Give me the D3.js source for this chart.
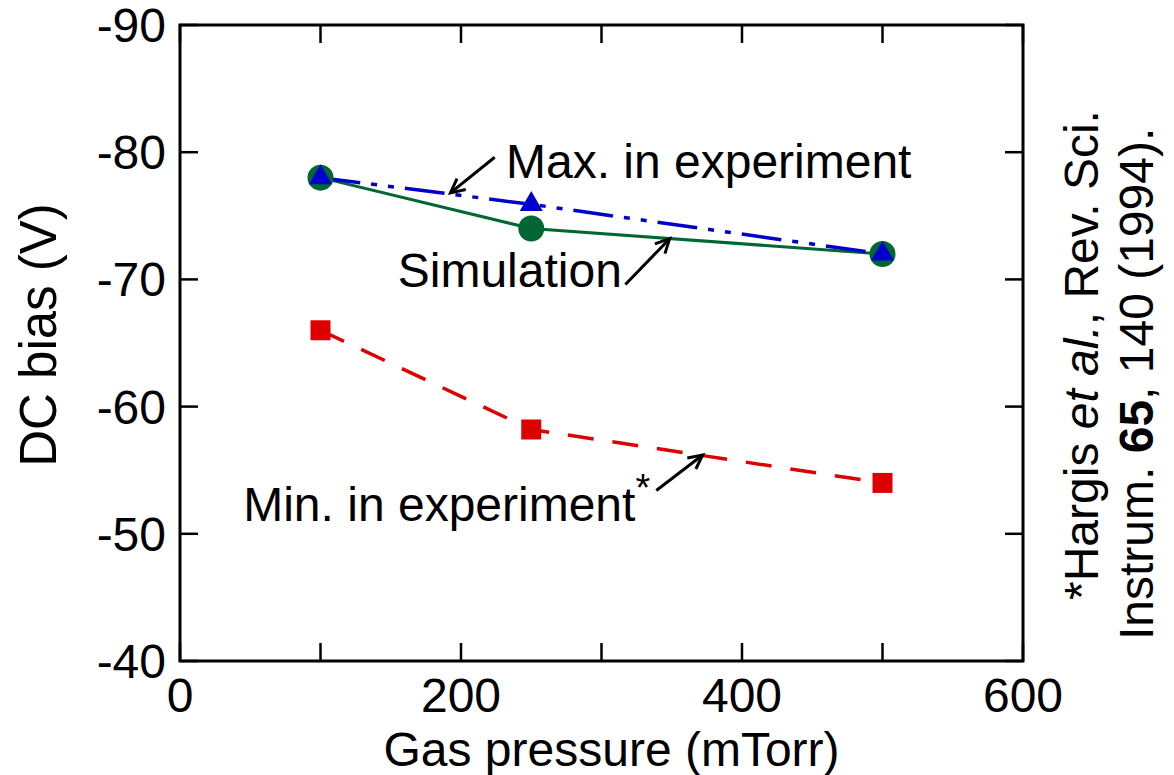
<!DOCTYPE html>
<html>
<head>
<meta charset="utf-8">
<script src="https://cdn.jsdelivr.net/npm/d3@7"></script>
<style>
  body { margin: 0; background: #fff; }
  svg text { font-family: "Liberation Sans", Arial, sans-serif; fill: #000; }
</style>
</head>
<body>
<div id="chart"></div>
<script>
// data
const pressure = [100, 250, 500];             // mTorr
const simulation = [-78, -74, -72];           // V
const maxExperiment = [-78, -75.9, -72];      // V
const minExperiment = [-66, -58.2, -54];      // V

const xTicks = [0, 100, 200, 300, 400, 500, 600];
const xTickLabels = [0, 200, 400, 600];
const yTicks = [-90, -80, -70, -60, -50, -40];

const margin = { top: 25, right: 151, bottom: 114, left: 180 },
    width = 1174 - margin.left - margin.right,
    height = 775 - margin.top - margin.bottom;

const svg = d3.select("#chart")
    .append("svg")
    .attr("width", width + margin.left + margin.right)
    .attr("height", height + margin.top + margin.bottom);

const defs = svg.append("defs");
defs.append("marker")
    .attr("id", "arrow")
    .attr("markerUnits", "userSpaceOnUse")
    .attr("markerWidth", 30).attr("markerHeight", 30)
    .attr("viewBox", "-15 -15 30 30")
    .attr("refX", 0).attr("refY", 0)
    .attr("orient", "auto")
    .append("path")
    .attr("d", "M-14,-7 L0,0 L-14,7")
    .attr("fill", "none")
    .attr("stroke", "#000")
    .attr("stroke-width", 3);

const g = svg.append("g")
    .attr("transform", `translate(${margin.left},${margin.top})`);

const x = d3.scaleLinear().domain([0, 600]).range([0, width]);
const y = d3.scaleLinear().domain([-90, -40]).range([0, height]);

const fs = 48;
const tickLen = 18;

// ticks (inward, mirrored)
const tickG = g.append("g").attr("stroke", "#000").attr("stroke-width", 2.5);
xTicks.forEach(v => {
    tickG.append("line").attr("x1", x(v)).attr("x2", x(v))
        .attr("y1", height).attr("y2", height - tickLen);
    tickG.append("line").attr("x1", x(v)).attr("x2", x(v))
        .attr("y1", 0).attr("y2", tickLen);
});
yTicks.forEach(v => {
    tickG.append("line").attr("x1", 0).attr("x2", tickLen)
        .attr("y1", y(v)).attr("y2", y(v));
    tickG.append("line").attr("x1", width).attr("x2", width - tickLen)
        .attr("y1", y(v)).attr("y2", y(v));
});

// frame
g.append("rect")
    .attr("width", width).attr("height", height)
    .attr("fill", "none").attr("stroke", "#000").attr("stroke-width", 3);

// tick labels
g.selectAll(".xlab").data(xTickLabels).join("text")
    .attr("class", "xlab")
    .attr("x", d => x(d)).attr("y", height + 51)
    .attr("text-anchor", "middle")
    .style("font-size", fs + "px")
    .text(d => d);

g.selectAll(".ylab").data(yTicks).join("text")
    .attr("class", "ylab")
    .attr("x", -14).attr("y", d => y(d) + 17)
    .attr("text-anchor", "end")
    .style("font-size", fs + "px")
    .text(d => d);

// axis titles
g.append("text")
    .attr("x", width / 2 + 10).attr("y", height + 105)
    .attr("text-anchor", "middle")
    .style("font-size", fs + "px")
    .text("Gas pressure (mTorr)");

g.append("text")
    .attr("transform", `translate(${-124},${height / 2 - 8}) rotate(-90)`)
    .attr("text-anchor", "middle")
    .style("font-size", "51px")
    .text("DC bias (V)");

// series lines
const line = d3.line().x(d => x(d[0])).y(d => y(d[1]));

g.append("path")
    .datum(d3.zip(pressure, simulation))
    .attr("d", line)
    .attr("fill", "none").attr("stroke", "#006633").attr("stroke-width", 3);

g.append("path")
    .datum(d3.zip(pressure, maxExperiment))
    .attr("d", line)
    .attr("fill", "none").attr("stroke", "#0000cc").attr("stroke-width", 3.5)
    .attr("stroke-dasharray", "40,11,6,11,6,11");

g.append("path")
    .datum(d3.zip(pressure, minExperiment))
    .attr("d", line)
    .attr("fill", "none").attr("stroke", "#dd0000").attr("stroke-width", 3.5)
    .attr("stroke-dasharray", "26,19");

// markers
g.selectAll(".sim").data(d3.zip(pressure, simulation)).join("circle")
    .attr("class", "sim")
    .attr("cx", d => x(d[0])).attr("cy", d => y(d[1]))
    .attr("r", 13).attr("fill", "#006633");

g.selectAll(".max").data(d3.zip(pressure, maxExperiment)).join("path")
    .attr("class", "max")
    .attr("transform", d => `translate(${x(d[0])},${y(d[1])})`)
    .attr("d", d3.symbol(d3.symbolTriangle, 230))
    .attr("fill", "#0000cc");

g.selectAll(".min").data(d3.zip(pressure, minExperiment)).join("rect")
    .attr("class", "min")
    .attr("x", d => x(d[0]) - 10).attr("y", d => y(d[1]) - 10)
    .attr("width", 20).attr("height", 20)
    .attr("fill", "#dd0000");

// annotations (positions in data units)
const arrows = [
    { from: [224, -79.6], to: [192.5, -76.8] },
    { from: [317, -69.6], to: [348.5, -73.2] },
    { from: [339, -53.4], to: [372, -56.2] }
];
g.selectAll(".arr").data(arrows).join("line")
    .attr("class", "arr")
    .attr("x1", d => x(d.from[0])).attr("y1", d => y(d.from[1]))
    .attr("x2", d => x(d.to[0])).attr("y2", d => y(d.to[1]))
    .attr("stroke", "#000").attr("stroke-width", 3)
    .attr("marker-end", "url(#arrow)");

g.append("text")
    .attr("x", x(232)).attr("y", y(-78.0))
    .style("font-size", fs + "px")
    .text("Max. in experiment");

g.append("text")
    .attr("x", x(314.5)).attr("y", y(-69.4))
    .attr("text-anchor", "end")
    .style("font-size", fs + "px")
    .text("Simulation");

const minLab = g.append("text")
    .attr("x", x(45)).attr("y", y(-51.0))
    .style("font-size", fs + "px")
    .text("Min. in experiment");
minLab.append("tspan")
    .attr("dy", -20)
    .style("font-size", "38px")
    .text("*");

// reference note, rotated on the right
const note = svg.append("g")
    .style("font-size", fs + "px");

const n1 = note.append("text")
    .attr("transform", "translate(1098,600) rotate(-90)");
n1.append("tspan").text("*Hargis ");
n1.append("tspan").style("font-style", "italic").text("et al.");
n1.append("tspan").text(", Rev. Sci.");

const n2 = note.append("text")
    .attr("transform", "translate(1153,640) rotate(-90)");
n2.append("tspan").text("Instrum. ");
n2.append("tspan").style("font-weight", "bold").text("65");
n2.append("tspan").text(", 140 (1994).");
</script>
</body>
</html>
